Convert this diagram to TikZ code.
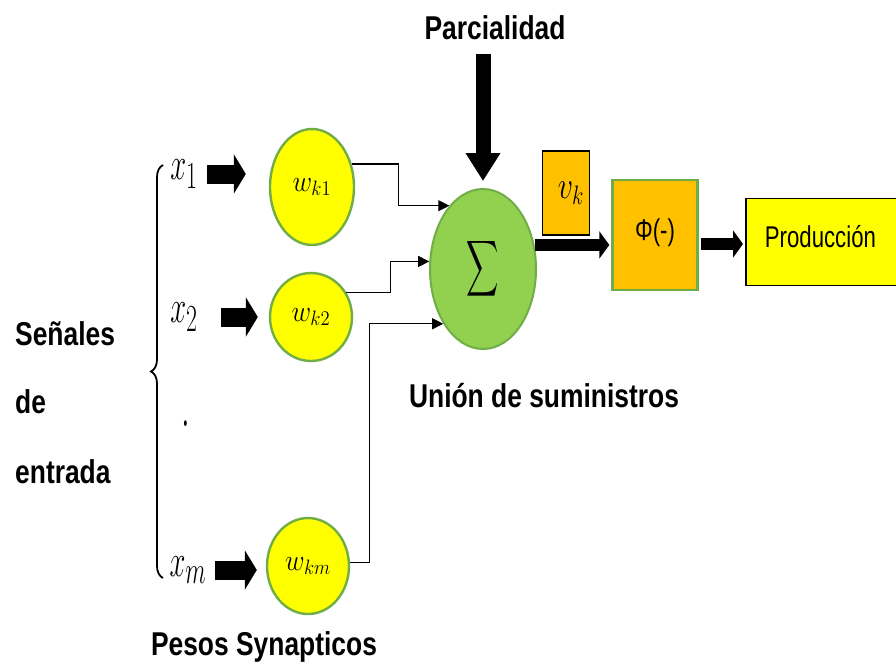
\documentclass[tikz,border=0pt]{standalone}
\usepackage{fontspec}
\usepackage{amsmath}
\usetikzlibrary{arrows.meta, positioning, shapes.geometric, decorations.pathreplacing}
\newfontfamily\capfont[FakeStretch=0.8]{Liberation Sans}
\newfontfamily\boxfont[FakeStretch=0.74]{Liberation Sans}
\definecolor{c1}{HTML}{000000}
\definecolor{leaf}{HTML}{92D050}
\definecolor{leafline}{HTML}{70AD47}
\definecolor{sun}{HTML}{FFFF00}
\definecolor{amber}{HTML}{FFC000}

\begin{document}
\begin{tikzpicture}[x=1pt, y=-1pt,
    heading/.style={font=\capfont\bfseries\fontsize{33}{33}\selectfont, inner sep=0pt},
    sym/.style={font=\Huge, inner sep=0pt},
    weight/.style={ellipse, draw=leafline, fill=sun, line width=2.4pt,
                   inner sep=0pt, font=\huge},
    fat/.style={line width=19pt, -{Triangle[length=12pt, width=39pt]}, color=c1},
    slim/.style={line width=12pt, -{Triangle[length=10pt, width=27pt]}, color=c1},
    conn/.style={line width=1.1pt, -{Triangle[length=11pt, width=11pt]}, color=c1},
]
\useasboundingbox (0,0) rectangle (896,670);

% bias and summing junction
\node[heading, anchor=base] (bias) at (495,39) {Parcialidad};
\node[ellipse, draw=leafline, fill=leaf, line width=2pt, minimum width=106pt,
      minimum height=160pt, inner sep=0pt] (sum) at (483,269)
    {\Huge\scalebox{0.9}[1.57]{$\displaystyle\sum$}};
\draw[line width=15pt, -{Triangle[length=28pt, width=33pt]}, shorten <=14pt, shorten >=7pt]
    (bias.south -| sum.north) -- (sum.north);
\node[heading, anchor=base] (union) at (544,407) {Unión de suministros};

% inputs
\node[sym] (x1) at (184,174) {\scalebox{1.15}[1.85]{$x_1$}};
\node[sym] (x2) at (184,317) {\scalebox{1.15}[1.85]{$x_2$}};
\node[sym] (dots) at (186,424) {\scalebox{1.4}[2.8]{.}};
\node[sym] (xm) at (188,570) {\scalebox{1.15}[1.85]{$x_m$}};
\draw[decorate, decoration={brace, amplitude=12pt}, line width=1.8pt]
    (163,578) -- (163,165);

\node[heading, anchor=base west] (sig) at (15,345) {Señales};
\node[heading, anchor=base west] (de) at (15,413) {de};
\node[heading, anchor=base west] (ent) at (15,483) {entrada};

% synaptic weights
\node[weight, minimum width=84pt, minimum height=116pt] (w1) at (312,187)
    {\scalebox{1.3}[1.45]{$w_{k1}$}};
\node[weight, minimum width=82pt, minimum height=88pt] (w2) at (311,317)
    {\scalebox{1.3}[1.45]{$w_{k2}$}};
\node[weight, minimum width=82pt, minimum height=96pt] (wm) at (308,566)
    {\scalebox{1.3}[1.45]{$w_{km}$}};
\node[heading, anchor=base] (pesos) at (264,655) {Pesos Synapticos};

\draw[fat, shorten <=9pt, shorten >=23pt] (x1.east) -- (x1.east -| w1.west);
\draw[fat, shorten <=23pt, shorten >=11pt] (x2.east) -- (x2.east -| w2.west);
\draw[fat, shorten <=8pt, shorten >=9pt] (xm.east) -- (xm.east -| wm.west);

\draw[conn] (w1.30) -- ++(47,0) |- (sum.118);
\draw[conn] (w2.35) -- ++(44,0) |- (sum.172);
\draw[conn] (wm.5) -- ++(19,0) |- (sum.234);

% activation and output
\node[draw=c1, fill=amber, line width=1.6pt, minimum width=47pt, minimum height=84pt,
      inner sep=0pt, font=\huge] (vk) at (566,193)
    {\hspace{10pt}\scalebox{1.45}[1.85]{$v_k$}};
\node[draw=leafline, fill=amber, line width=2.4pt, minimum width=85pt, minimum height=110pt,
      font=\boxfont\fontsize{30}{30}\selectfont] (phi) at (655,235) {\raisebox{10pt}{Φ(-)}};
\node[draw=c1, fill=sun, line width=1.8pt, anchor=west, minimum height=87pt,
      text width=130pt, inner xsep=19pt, align=left,
      font=\boxfont\fontsize{30}{30}\selectfont] (out) at (745,242) {\raisebox{11pt}{Producción}};

\draw[slim, shorten >=2pt] (sum.25) -- (sum.25 -| phi.west);
\draw[slim, shorten <=2pt, shorten >=2pt] ([yshift=-9pt]phi.east) -- ([yshift=-9pt]phi.east -| out.west);
\end{tikzpicture}
\end{document}
